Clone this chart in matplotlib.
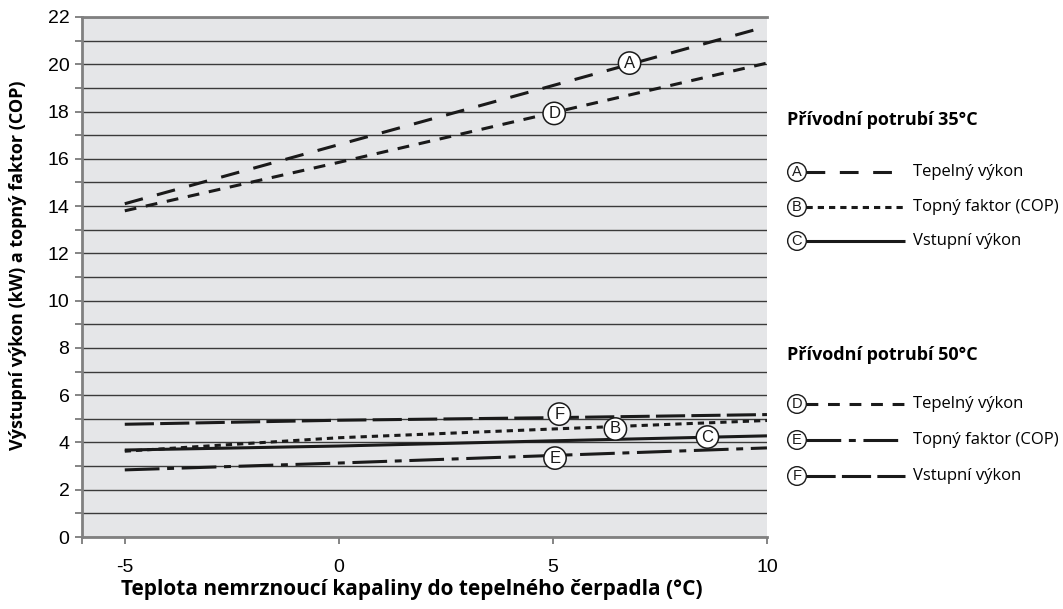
import matplotlib
matplotlib.use("Agg")
import matplotlib.pyplot as plt
from matplotlib.lines import Line2D

plt.rcParams['lines.scale_dashes'] = False
plt.rcParams['axes.unicode_minus'] = False

# Brine inlet temperature (°C)
temp = [-5, 0, 5, 10]

# Flow 35 °C
heat_35 = [14.1, 16.6, 19.1, 21.6]     # A - heating output (kW)
cop_35 = [3.63, 4.2, 4.57, 4.93]       # B - COP
power_35 = [3.68, 3.85, 4.07, 4.28]    # C - input power (kW)

# Flow 50 °C
heat_50 = [13.8, 15.85, 17.95, 20.05]  # D - heating output (kW)
cop_50 = [2.84, 3.13, 3.45, 3.77]      # E - COP
power_50 = [4.77, 4.94, 5.05, 5.18]    # F - input power (kW)

# Letter badges placed along the curves (x, y)
badge_letters = ['A', 'D', 'F', 'B', 'C', 'E']
badge_x = [6.79, 5.03, 5.15, 6.46, 8.61, 5.05]
badge_y = [20.05, 17.92, 5.2, 4.57, 4.23, 3.34]

INK = '#1a1a1a'
LW = 2.2
STYLES = {
    'A': (0, (13.5, 10.5)),
    'B': (0, (4.5, 3.6)),
    'C': '-',
    'D': (0, (8.5, 7.0)),
    'E': (0, (25, 5.5, 5, 5.5)),
    'F': (0, (21, 4.5)),
}

fig = plt.figure(figsize=(10.63, 6.09), dpi=100)
ax = fig.add_axes([0.0771, 0.1182, 0.6444, 0.8539])
ax.set_facecolor('#e5e6e8')

series = [('A', heat_35), ('D', heat_50), ('F', power_50),
          ('B', cop_35), ('C', power_35), ('E', cop_50)]
for key, vals in series:
    ax.plot(temp, vals, color=INK, linewidth=LW, linestyle=STYLES[key],
            solid_capstyle='butt', dash_capstyle='butt', zorder=3)

for letter, bx, by in zip(badge_letters, badge_x, badge_y):
    ax.text(bx, by, letter, ha='center', va='center', fontsize=12,
            family='Liberation Sans', color=INK, zorder=5,
            bbox=dict(boxstyle='circle,pad=0.22', facecolor='white',
                      edgecolor=INK, linewidth=1.1))

ax.set_xlim(-6, 10)
ax.set_ylim(0, 22)
ax.set_xticks([-5, 0, 5, 10])
ax.set_xticks([-6], minor=True)
ax.set_yticks(range(0, 23, 2))
ax.set_yticks(range(1, 22, 2), minor=True)
ax.yaxis.grid(True, which='both', color='#3a3a3a', linewidth=1.0)
ax.set_axisbelow(True)

for lab in ax.get_xticklabels() + ax.get_yticklabels():
    lab.set_family('Liberation Sans')
    lab.set_fontsize(14)
ax.tick_params(axis='both', which='both', direction='out', length=5,
               width=1.2, color='#707070')
ax.tick_params(axis='x', pad=11)
ax.tick_params(axis='y', pad=4)

ax.spines['right'].set_visible(False)
for side in ('left', 'bottom', 'top'):
    ax.spines[side].set_color('#808080')
    ax.spines[side].set_linewidth(2.0)

fig.text(18 / 1063, 1 - 265 / 609, 'Výstupní výkon (kW) a topný faktor (COP)',
         family='Open Sans', fontweight='bold', fontsize=13,
         rotation=90, ha='center', va='center')

fig.text(412 / 1063, 1 - 590 / 609,
         'Teplota nemrznoucí kapaliny do tepelného čerpadla (°C)',
         family='Open Sans', fontweight='bold', fontsize=15,
         ha='center', va='center')

# Legend panel on the right
lax = fig.add_axes([0.0, 0.0, 1.0, 1.0])
lax.set_xlim(0, 1063)
lax.set_ylim(609, 0)
lax.axis('off')

groups = [
    ('Přívodní potrubí 35°C', 120, [('A', 172, 'Tepelný výkon'),
                                   ('B', 207, 'Topný faktor (COP)'),
                                   ('C', 241, 'Vstupní výkon')]),
    ('Přívodní potrubí 50°C', 355, [('D', 404, 'Tepelný výkon'),
                                   ('E', 440, 'Topný faktor (COP)'),
                                   ('F', 476, 'Vstupní výkon')]),
]
for header, hy, entries in groups:
    lax.text(787, hy, header, family='Open Sans', fontweight='bold',
             fontsize=13, va='center', ha='left')
    for letter, ey, label in entries:
        lax.add_line(Line2D([806, 905], [ey, ey], color=INK, linewidth=LW,
                            linestyle=STYLES[letter], solid_capstyle='butt',
                            dash_capstyle='butt'))
        lax.text(797, ey, letter, ha='center', va='center', fontsize=10.5,
                 family='Liberation Sans', color=INK, zorder=5,
                 bbox=dict(boxstyle='circle,pad=0.16', facecolor='white',
                           edgecolor=INK, linewidth=1.0))
        lax.text(913, ey, label, family='Open Sans', fontsize=12,
                 va='center', ha='left')

fig.savefig('out.png', dpi=100, facecolor='white')
